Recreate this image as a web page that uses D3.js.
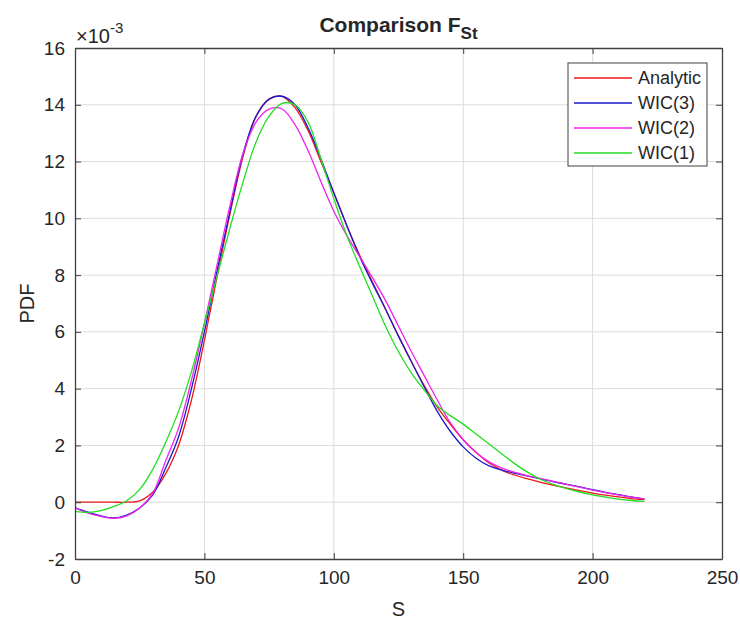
<!DOCTYPE html>
<html>
<head>
<meta charset="utf-8">
<script src="https://cdn.jsdelivr.net/npm/d3@7"></script>
<style>
body { margin: 0; background: #fff; }
text { font-family: "Liberation Sans", Arial, Helvetica, sans-serif; fill: #262626; }
</style>
</head>
<body>
<div id="chart"></div>
<script>
// S values (x axis)
var sVals = [0,5,10,15,20,25,30,35,40,45,50,55,60,65,70,75,80,85,90,95,100,105,110,115,120,125,130,135,140,145,150,155,160,165,170,175,180,185,190,195,200,205,210,215,220];

// PDF values, in units of 1e-3
var analytic = [0,0,0,0,0,0.05,0.35,1.0,2.0,3.6,5.7,8.0,10.2,12.2,13.6,14.2,14.3,13.9,13.1,12.0,10.9,9.75,8.7,7.75,6.8,5.85,4.95,4.1,3.35,2.75,2.2,1.75,1.38,1.12,0.95,0.82,0.7,0.59,0.5,0.41,0.32,0.25,0.19,0.13,0.09];
var wic3 = [-0.2,-0.35,-0.48,-0.55,-0.45,-0.2,0.25,1.2,2.3,4.0,6.0,8.2,10.3,12.3,13.6,14.2,14.3,14.0,13.2,12.1,10.9,9.75,8.65,7.7,6.8,5.85,4.95,4.05,3.2,2.5,1.95,1.55,1.28,1.13,1.02,0.92,0.82,0.72,0.63,0.54,0.44,0.35,0.27,0.19,0.12];
var wic2 = [-0.2,-0.38,-0.5,-0.57,-0.48,-0.2,0.3,1.45,2.6,4.3,6.3,8.4,10.5,12.3,13.4,13.85,13.85,13.3,12.4,11.3,10.25,9.4,8.65,7.9,7.1,6.2,5.3,4.45,3.6,2.8,2.2,1.75,1.42,1.2,1.05,0.93,0.83,0.73,0.63,0.53,0.43,0.34,0.26,0.18,0.12];
var wic1 = [-0.32,-0.36,-0.3,-0.15,0.05,0.45,1.15,2.1,3.2,4.6,6.3,8.0,9.7,11.3,12.7,13.6,14.05,14.0,13.4,12.1,10.7,9.4,8.3,7.25,6.2,5.3,4.55,3.95,3.4,3.05,2.75,2.4,2.05,1.7,1.35,1.05,0.8,0.62,0.48,0.36,0.26,0.18,0.11,0.06,0.03];

var seriesNames = ["Analytic", "WIC(3)", "WIC(2)", "WIC(1)"];
var seriesColors = ["#f01818", "#1a1acc", "#ee22ee", "#22dd22"];
var seriesValues = [analytic, wic3, wic2, wic1];

var xTicks = [0, 50, 100, 150, 200, 250];
var yTicks = [-2, 0, 2, 4, 6, 8, 10, 12, 14, 16];

var W = 740, H = 619;
var mLeft = 75, mRight = 722, mTop = 48, mBottom = 559;

var svg = d3.select('#chart').append('svg')
    .attr('width', W)
    .attr('height', H)

svg.append('rect').attr('width', W).attr('height', H).attr('fill', '#fff')

var x = d3.scaleLinear().domain([0, 250]).range([mLeft, mRight])
var y = d3.scaleLinear().domain([-2, 16]).range([mBottom, mTop])

// grid
var grid = svg.append('g')
grid.selectAll('.vg').data(xTicks.slice(1, -1)).enter().append('line')
    .attr('x1', function(d) { return x(d) }).attr('x2', function(d) { return x(d) })
    .attr('y1', mTop).attr('y2', mBottom)
    .attr('stroke', '#dcdcdc').attr('stroke-width', 1)
grid.selectAll('.hg').data(yTicks.slice(1, -1)).enter().append('line')
    .attr('y1', function(d) { return y(d) }).attr('y2', function(d) { return y(d) })
    .attr('x1', mLeft).attr('x2', mRight)
    .attr('stroke', '#dcdcdc').attr('stroke-width', 1)

// lines
var line = d3.line()
    .x(function(d) { return x(d[0]) })
    .y(function(d) { return y(d[1]) })
    .curve(d3.curveCatmullRom.alpha(0.5))

seriesValues.forEach(function(vals, i) {
    svg.append('path')
        .datum(sVals.map(function(s, j) { return [s, vals[j]] }))
        .attr('fill', 'none')
        .attr('stroke', seriesColors[i])
        .attr('stroke-width', 1.3)
        .attr('d', line)
})

// axes (ticks point inward, like matlab)
function styleAxis(g) {
    g.selectAll('path').attr('stroke', '#404040').attr('stroke-width', 1.3)
    g.selectAll('line').attr('stroke', '#404040').attr('stroke-width', 1)
    g.selectAll('text').style('font-size', '19px').attr('fill', '#262626')
}

var plainFmt = function(d) { return String(d) }

var xAxisG = svg.append('g').attr('transform', 'translate(0,' + mBottom + ')')
    .call(d3.axisBottom(x).tickValues(xTicks).tickFormat(plainFmt).tickSize(-6).tickSizeOuter(0).tickPadding(12))
styleAxis(xAxisG)

var xTopG = svg.append('g').attr('transform', 'translate(0,' + mTop + ')')
    .call(d3.axisTop(x).tickValues(xTicks).tickSize(-6).tickSizeOuter(0).tickFormat(''))
styleAxis(xTopG)

var yAxisG = svg.append('g').attr('transform', 'translate(' + mLeft + ',0)')
    .call(d3.axisLeft(y).tickValues(yTicks).tickFormat(plainFmt).tickSize(-6).tickSizeOuter(0).tickPadding(10))
styleAxis(yAxisG)

var yRightG = svg.append('g').attr('transform', 'translate(' + mRight + ',0)')
    .call(d3.axisRight(y).tickValues(yTicks).tickSize(-6).tickSizeOuter(0).tickFormat(''))
styleAxis(yRightG)

// exponent label
var expo = svg.append('text').attr('x', mLeft + 1).attr('y', 43).style('font-size', '20px')
expo.append('tspan').text('\u00d710')
expo.append('tspan').attr('dy', -10).style('font-size', '15px').text('-3')

// title
var title = svg.append('text').attr('x', (mLeft + mRight) / 2).attr('y', 32)
    .attr('text-anchor', 'middle').style('font-size', '21px').style('font-weight', 'bold')
title.append('tspan').text('Comparison F')
title.append('tspan').attr('dy', 7).style('font-size', '17px').text('St')

// axis labels
svg.append('text').attr('x', (mLeft + mRight) / 2).attr('y', 616)
    .attr('text-anchor', 'middle').style('font-size', '20px').text('S')
svg.append('text').attr('transform', 'translate(34,' + ((mTop + mBottom) / 2) + ') rotate(-90)')
    .attr('text-anchor', 'middle').style('font-size', '20px').text('PDF')

// legend
var legend = svg.append('g')
legend.append('rect').attr('x', 568).attr('y', 63).attr('width', 139).attr('height', 103)
    .attr('fill', '#fff').attr('stroke', '#404040').attr('stroke-width', 1)
var rows = legend.selectAll('.row').data(seriesNames).enter().append('g')
    .attr('transform', function(d, i) { return 'translate(0,' + (78 + i * 25) + ')' })
rows.append('line').attr('x1', 574).attr('x2', 632).attr('y1', 0).attr('y2', 0)
    .attr('stroke', function(d, i) { return seriesColors[i] }).attr('stroke-width', 1.3)
rows.append('text').attr('x', 638).attr('y', 6).style('font-size', '18px').text(function(d) { return d })
</script>
</body>
</html>
